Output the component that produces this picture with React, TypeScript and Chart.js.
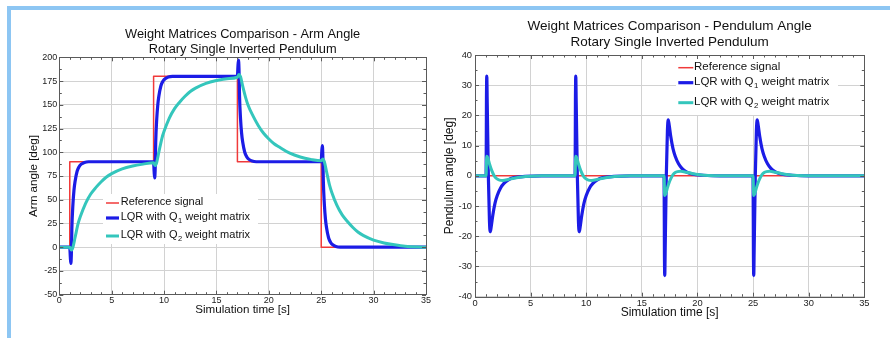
import React, { useEffect, useRef } from "react";
import { Chart, registerables } from "chart.js";

Chart.register(...registerables);

// ---------------- Arm angle chart data ----------------
const armTitle = ["Weight Matrices Comparison - Arm Angle", "Rotary Single Inverted Pendulum"];
const armXTitle = "Simulation time [s]";
const armYTitle = "Arm angle [deg]";

const armRefTime = [0, 1, 1, 9, 9, 17, 17, 25, 25, 35];
const armRefValue = [0, 0, 90, 90, 180, 180, 90, 90, 0, 0];

const armQ1Time = [
  0, 1, 1.05, 1.1, 1.15, 1.2, 1.3, 1.4, 1.5, 1.7, 1.9, 2.1, 2.4, 2.8, 3.5,
  9, 9.05, 9.1, 9.15, 9.2, 9.3, 9.4, 9.5, 9.7, 9.9, 10.1, 10.4, 10.8, 11.5,
  17, 17.05, 17.1, 17.15, 17.2, 17.3, 17.4, 17.5, 17.7, 17.9, 18.1, 18.4, 18.8, 19.5,
  25, 25.05, 25.1, 25.15, 25.2, 25.3, 25.4, 25.5, 25.7, 25.9, 26.1, 26.4, 26.8, 27.5, 35,
];
const armQ1Value = [
  0, 0, -10, -17, -8, 20, 45, 60, 69, 80, 85, 87.5, 89.3, 90, 90,
  90, 80, 73, 82, 110, 135, 150, 159, 170, 175, 177.5, 179.3, 180, 180,
  180, 190, 197, 188, 160, 135, 120, 111, 100, 95, 92.5, 90.7, 90, 90,
  90, 100, 107, 98, 70, 45, 30, 21, 10, 5, 2.5, 0.7, 0, 0, 0,
];

const armQ2Time = [
  0, 1, 1.15, 1.3, 1.5, 1.8, 2, 2.5, 3, 3.5, 4, 4.5, 5, 6, 7, 8,
  9, 9.15, 9.3, 9.5, 9.8, 10, 10.5, 11, 11.5, 12, 12.5, 13, 14, 15, 16,
  17, 17.15, 17.3, 17.5, 17.8, 18, 18.5, 19, 19.5, 20, 20.5, 21, 22, 23, 24,
  25, 25.15, 25.3, 25.5, 25.8, 26, 26.5, 27, 27.5, 28, 28.5, 29, 30, 31, 32, 33, 35,
];
const armQ2Value = [
  0, 0, -3, 0, 10, 25, 32, 46, 56, 63, 69, 74, 77.5, 82.5, 85.5, 87.5,
  89, 86, 89.5, 100, 115, 122, 136, 146, 153, 159, 164, 167.5, 172.5, 175.5, 177.5,
  179, 182, 179.5, 170, 157, 150, 138, 128, 120, 114, 109, 105.5, 99, 95, 92.5,
  91, 93, 90, 80, 65, 58, 44, 34, 27, 21, 16, 12.5, 7.5, 4.5, 2.5, 1, 0,
];

// ---------------- Pendulum angle chart data ----------------
const pendTitle = ["Weight Matrices Comparison - Pendulum Angle", "Rotary Single Inverted Pendulum"];
const pendXTitle = "Simulation time [s]";
const pendYTitle = "Pendulum angle [deg]";

const pendRefTime = [0, 35];
const pendRefValue = [0, 0];

const pendQ1Time = [
  0, 1, 1.03, 1.06, 1.1, 1.2, 1.3, 1.37, 1.45, 1.6, 1.8, 2, 2.3, 2.6, 3, 3.5, 4.5, 6,
  9, 9.03, 9.06, 9.1, 9.2, 9.3, 9.37, 9.45, 9.6, 9.8, 10, 10.3, 10.6, 11, 11.5, 12.5, 14,
  17, 17.03, 17.06, 17.1, 17.2, 17.3, 17.37, 17.45, 17.6, 17.8, 18, 18.3, 18.6, 19, 19.5, 20.5, 22,
  25, 25.03, 25.06, 25.1, 25.2, 25.3, 25.37, 25.45, 25.6, 25.8, 26, 26.3, 26.6, 27, 27.5, 28.5, 30, 35,
];
const pendQ1Value = [
  0, 0, 25, 33, 24, 0, -15, -18.5, -17, -13, -9, -6.5, -4, -2.5, -1.3, -0.6, -0.2, 0,
  0, 25, 33, 24, 0, -15, -18.5, -17, -13, -9, -6.5, -4, -2.5, -1.3, -0.6, -0.2, 0,
  0, -25, -33, -24, 0, 15, 18.5, 17, 13, 9, 6.5, 4, 2.5, 1.3, 0.6, 0.2, 0,
  0, -25, -33, -24, 0, 15, 18.5, 17, 13, 9, 6.5, 4, 2.5, 1.3, 0.6, 0.2, 0, 0,
];

const pendQ2Time = [
  0, 1, 1.05, 1.15, 1.3, 1.5, 1.7, 1.9, 2.2, 2.5, 3, 3.5, 4.2, 5, 6,
  9, 9.05, 9.15, 9.3, 9.5, 9.7, 9.9, 10.2, 10.5, 11, 11.5, 12.2, 13, 14,
  17, 17.05, 17.15, 17.3, 17.5, 17.7, 17.9, 18.2, 18.5, 19, 19.5, 20.2, 21, 22,
  25, 25.05, 25.15, 25.3, 25.5, 25.7, 25.9, 26.2, 26.5, 27, 27.5, 28.2, 29, 30, 35,
];
const pendQ2Value = [
  0, 0, 6.5, 6, 4, 1.8, 0.2, -0.8, -1.4, -1.5, -1.2, -0.8, -0.4, -0.15, 0,
  0, 6.5, 6, 4, 1.8, 0.2, -0.8, -1.4, -1.5, -1.2, -0.8, -0.4, -0.15, 0,
  0, -6.5, -6, -4, -1.8, -0.2, 0.8, 1.4, 1.5, 1.2, 0.8, 0.4, 0.15, 0,
  0, -6.5, -6, -4, -1.8, -0.2, 0.8, 1.4, 1.5, 1.2, 0.8, 0.4, 0.15, 0, 0,
];

// ---------------- shared labels ----------------
const seriesLabels = ["Reference signal", "LQR with Q\u2081 weight matrix", "LQR with Q\u2082 weight matrix"];
const seriesColors = ["#f03a3a", "#1c1ce6", "#34c6bc"];
const seriesWidths = [1.5, 3.2, 3];

const FONT = '"Liberation Sans", Arial, Helvetica, sans-serif';

function toPoints(t: number[], v: number[]) {
  return t.map((x, i) => ({ x, y: v[i] }));
}

const SUBS: Record<string, string> = { "\u2080": "0", "\u2081": "1", "\u2082": "2", "\u2083": "3" };

function drawRichText(ctx: CanvasRenderingContext2D, text: string, x: number, y: number, size: number) {
  let cx = x;
  let buf = "";
  const flush = () => {
    if (!buf) return;
    ctx.font = `${size}px ${FONT}`;
    ctx.fillText(buf, cx, y);
    cx += ctx.measureText(buf).width;
    buf = "";
  };
  for (const ch of text) {
    if (SUBS[ch]) {
      flush();
      ctx.font = `${size * 0.68}px ${FONT}`;
      ctx.fillText(SUBS[ch], cx + 0.5, y + size * 0.38);
      cx += ctx.measureText(SUBS[ch]).width + 0.5;
    } else {
      buf += ch;
    }
  }
  flush();
}

const decorPlugin = {
  id: "decor",
  beforeDatasetsDraw(chart: any, _args: any, o: any) {
    const { ctx, chartArea: a } = chart;
    const lg = o.legend;
    ctx.save();
    ctx.fillStyle = "#ffffff";
    ctx.fillRect(a.left + lg.box[0], a.top + lg.box[1], lg.box[2], lg.box[3]);
    ctx.restore();
  },
  afterDatasetsDraw(chart: any, _args: any, o: any) {
    const { ctx, chartArea: a } = chart;
    const xs = chart.scales.x;
    const ys = chart.scales.y;
    ctx.save();
    // frame
    ctx.strokeStyle = "#5a5a5a";
    ctx.lineWidth = 1;
    ctx.strokeRect(Math.round(a.left) + 0.5, Math.round(a.top) + 0.5, Math.round(a.right - a.left), Math.round(a.bottom - a.top));
    // inward ticks
    ctx.beginPath();
    for (let v = xs.min; v <= xs.max + 1e-9; v += o.xMinor) {
      const px = Math.round(xs.getPixelForValue(v)) + 0.5;
      const major = Math.abs(v / o.xMajor - Math.round(v / o.xMajor)) < 1e-6;
      const len = major ? 4 : 2.5;
      ctx.moveTo(px, a.bottom);
      ctx.lineTo(px, a.bottom - len);
      ctx.moveTo(px, a.top);
      ctx.lineTo(px, a.top + len);
    }
    for (let v = ys.min; v <= ys.max + 1e-9; v += o.yMinor) {
      const py = Math.round(ys.getPixelForValue(v)) + 0.5;
      const major = Math.abs(v / o.yMajor - Math.round(v / o.yMajor)) < 1e-6;
      const len = major ? 4 : 2.5;
      ctx.moveTo(a.left, py);
      ctx.lineTo(a.left + len, py);
      ctx.moveTo(a.right, py);
      ctx.lineTo(a.right - len, py);
    }
    ctx.stroke();

    // legend entries
    const lg = o.legend;
    ctx.textBaseline = "middle";
    ctx.textAlign = "left";
    chart.data.datasets.forEach((ds: any, i: number) => {
      const y = a.top + lg.rows[i];
      ctx.strokeStyle = ds.borderColor;
      ctx.lineWidth = ds.borderWidth;
      ctx.beginPath();
      ctx.moveTo(a.left + lg.sample[0], y + 1);
      ctx.lineTo(a.left + lg.sample[1], y + 1);
      ctx.stroke();
      ctx.fillStyle = "#111";
      drawRichText(ctx, ds.label, a.left + lg.textX, y, lg.size);
    });
    ctx.restore();
  },
  afterDraw(chart: any, _args: any, o: any) {
    const { ctx, chartArea: a } = chart;
    const cx = (a.left + a.right) / 2;
    const cy = (a.top + a.bottom) / 2;
    ctx.save();
    ctx.fillStyle = "#111";
    ctx.textAlign = "center";
    ctx.textBaseline = "middle";
    ctx.font = `${o.titleSize}px ${FONT}`;
    o.title.forEach((line: string, i: number) => ctx.fillText(line, cx, o.titleY[i]));
    ctx.font = `${o.axisTitleSize}px ${FONT}`;
    ctx.fillText(o.xTitle, cx, o.xTitleY);
    ctx.translate(o.yTitleX, cy);
    ctx.rotate(-Math.PI / 2);
    ctx.fillText(o.yTitle, 0, 0);
    ctx.restore();
  },
};

type Spec = {
  left: number;
  width: number;
  padding: { left: number; right: number; top: number; bottom: number };
  yWidth: number;
  xHeight: number;
  yMin: number;
  yMax: number;
  yStep: number;
  yMinor: number;
  tickSize: number;
  tickPadX: number;
  tickPadY: number;
  series: { t: number[]; v: number[] }[];
  decor: any;
};

const specs: Spec[] = [
  {
    left: 0,
    width: 440,
    padding: { left: 19.3, right: 14, top: 57.3, bottom: 23.3 },
    yWidth: 40,
    xHeight: 20,
    yMin: -50,
    yMax: 200,
    yStep: 25,
    yMinor: 12.5,
    tickSize: 9,
    tickPadX: 0,
    tickPadY: 2,
    series: [
      { t: armRefTime, v: armRefValue },
      { t: armQ1Time, v: armQ1Value },
      { t: armQ2Time, v: armQ2Value },
    ],
    decor: {
      title: armTitle,
      titleY: [34.3, 49],
      titleSize: 12.8,
      xTitle: armXTitle,
      xTitleY: 310,
      yTitle: armYTitle,
      yTitleX: 34,
      axisTitleSize: 11.6,
      xMinor: 1,
      xMajor: 5,
      yMinor: 12.5,
      yMajor: 25,
      legend: { box: [43.7, 136.7, 155, 50], rows: [144.7, 159.7, 177.7], sample: [46.7, 59.7], textX: 61.4, size: 11 },
    },
  },
  {
    left: 440,
    width: 450,
    padding: { left: 3, right: 25.7, top: 55, bottom: 21.3 },
    yWidth: 32,
    xHeight: 20,
    yMin: -40,
    yMax: 40,
    yStep: 10,
    yMinor: 5,
    tickSize: 9.3,
    tickPadX: 1,
    tickPadY: 3,
    series: [
      { t: pendRefTime, v: pendRefValue },
      { t: pendQ1Time, v: pendQ1Value },
      { t: pendQ2Time, v: pendQ2Value },
    ],
    decor: {
      title: pendTitle,
      titleY: [26.7, 42.3],
      titleSize: 13.5,
      xTitle: pendXTitle,
      xTitleY: 313,
      yTitle: pendYTitle,
      yTitleX: 10,
      axisTitleSize: 12,
      xMinor: 1,
      xMajor: 5,
      yMinor: 5,
      yMajor: 10,
      legend: { box: [201, 1, 162, 59], rows: [11.7, 26.7, 46.7], sample: [203.3, 218.3], textX: 219, size: 11.5 },
    },
  },
];

function buildConfig(s: Spec): any {
  return {
    type: "line",
    data: {
      datasets: s.series.map((ser, i) => ({
        label: seriesLabels[i],
        data: toPoints(ser.t, ser.v),
        borderColor: seriesColors[i],
        backgroundColor: seriesColors[i],
        borderWidth: seriesWidths[i],
        pointRadius: 0,
        fill: false,
        tension: 0,
        cubicInterpolationMode: i === 0 ? "default" : "monotone",
        borderJoinStyle: "round",
        borderCapStyle: "round",
        order: 3 - i,
      })),
    },
    options: {
      animation: false,
      responsive: false,
      devicePixelRatio: 1,
      events: [],
      layout: { padding: s.padding },
      plugins: {
        legend: { display: false },
        title: { display: false },
        tooltip: { enabled: false },
        decor: s.decor,
      },
      scales: {
        x: {
          type: "linear",
          min: 0,
          max: 35,
          ticks: {
            stepSize: 5,
            autoSkip: false,
            maxRotation: 0,
            padding: s.tickPadX,
            color: "#222",
            font: { family: FONT, size: s.tickSize },
          },
          grid: { color: "#d2d2d2", lineWidth: 1, drawTicks: false },
          border: { display: false },
          afterFit: (sc: any) => {
            sc.height = s.xHeight;
          },
        },
        y: {
          type: "linear",
          min: s.yMin,
          max: s.yMax,
          ticks: {
            stepSize: s.yStep,
            autoSkip: false,
            padding: s.tickPadY,
            color: "#222",
            font: { family: FONT, size: s.tickSize },
          },
          grid: { color: "#d2d2d2", lineWidth: 1, drawTicks: false },
          border: { display: false },
          afterFit: (sc: any) => {
            sc.width = s.yWidth;
          },
        },
      },
    },
    plugins: [decorPlugin],
  };
}

function PlotCanvas({ spec }: { spec: Spec }) {
  const ref = useRef<HTMLCanvasElement | null>(null);
  useEffect(() => {
    if (!ref.current) return;
    const chart = new Chart(ref.current, buildConfig(spec));
    return () => chart.destroy();
  }, [spec]);
  return (
    <canvas
      ref={ref}
      width={spec.width}
      height={338}
      style={{ position: "absolute", left: spec.left, top: 0, width: spec.width, height: 338, display: "block" }}
    />
  );
}

export default function App() {
  return (
    <div
      style={{
        position: "fixed",
        left: 0,
        top: 0,
        width: 890,
        height: 338,
        background: "#ffffff",
        overflow: "hidden",
      }}
    >
      {specs.map((s, i) => (
        <PlotCanvas key={i} spec={s} />
      ))}
      <div style={{ position: "absolute", left: 7, top: 6, width: 883, height: 4, background: "#8dc6f3" }} />
      <div style={{ position: "absolute", left: 7, top: 6, width: 4, height: 332, background: "#8dc6f3" }} />
    </div>
  );
}
